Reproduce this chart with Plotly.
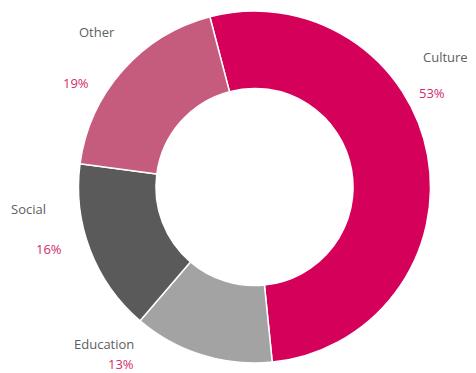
import plotly.graph_objects as go

W, H = 476, 373

categories = ["Culture", "Education", "Social", "Other"]
values = [53, 13, 16, 19]
pct_labels = ["53%", "13%", "16%", "19%"]
colors = ["#D4005A", "#A3A3A3", "#5A5A5A", "#C65C7D"]

# label anchor positions (pixels, from top-left) for name and percent text
name_pos = {"Culture": (445, 57), "Education": (104, 344), "Social": (28, 209), "Other": (97, 32)}
pct_pos = {"Culture": (432, 93), "Education": (121, 364), "Social": (49, 249), "Other": (76, 83)}

cx, cy, r = 254.5, 187, 176

fig = go.Figure(go.Pie(
    labels=categories,
    values=values,
    hole=0.56,
    sort=False,
    direction="clockwise",
    rotation=-14.7,
    marker=dict(colors=colors, line=dict(color="white", width=1.5)),
    textinfo="none",
    hoverinfo="label+percent",
    showlegend=False,
    domain=dict(x=[(cx - r) / W, (cx + r) / W], y=[(H - cy - r) / H, (H - cy + r) / H]),
))

annotations = []
for cat, pct in zip(categories, pct_labels):
    nx, ny = name_pos[cat]
    px, py = pct_pos[cat]
    annotations.append(dict(x=nx / W, y=1 - ny / H, xref="paper", yref="paper", text=cat,
                            showarrow=False, xanchor="center", yanchor="middle",
                            font=dict(family="Open Sans, sans-serif", size=13, color="#5E5E5E")))
    annotations.append(dict(x=px / W, y=1 - py / H, xref="paper", yref="paper", text=pct,
                            showarrow=False, xanchor="center", yanchor="middle",
                            font=dict(family="Open Sans, sans-serif", size=13, color="#D42A6B")))

fig.update_layout(
    width=W, height=H,
    margin=dict(l=0, r=0, t=0, b=0),
    paper_bgcolor="white", plot_bgcolor="white",
    annotations=annotations,
)

fig.write_html("out.html", config={"displayModeBar": False},
               post_script="document.body.style.margin='0';document.body.style.padding='0';document.body.style.overflow='hidden';")
